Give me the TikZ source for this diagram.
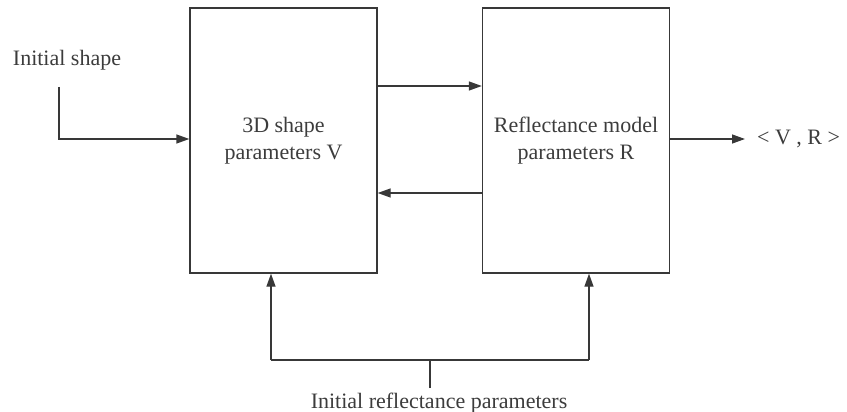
\documentclass[tikz,border=0pt]{standalone}
\usepackage{fontspec}
\setmainfont{Liberation Serif}
\usetikzlibrary{arrows.meta}
\definecolor{linegray}{HTML}{383838}
\definecolor{textgray}{HTML}{3C3C3C}
\begin{document}
\begin{tikzpicture}[x=1pt,y=-1pt,
  block/.style={draw=linegray, line width=1.4pt, minimum width=187pt,
    minimum height=265pt, inner sep=0pt, align=center,
    font=\fontsize{22}{27}\selectfont, text=textgray},
  lbl/.style={font=\fontsize{22}{27}\selectfont, text=textgray, inner sep=0pt},
  wire/.style={draw=linegray, line width=1.4pt},
  flow/.style={wire, -{Triangle[length=13pt,width=9pt]}}
]
\useasboundingbox (0,0) rectangle (847,412);

% the two estimation blocks
\node[block] (shape) at (283.5,140.5) {3D shape\\parameters V};
\node[block] (refl) at (576,140.5) {Reflectance model\\parameters R};

% labels
\node[lbl] (init) at (67,60) {Initial shape};
\node[lbl, anchor=west] (vr) at (757,139) {< V , R >};
\node[lbl] (irp) at (439,403) {Initial reflectance parameters};

% helper points
\coordinate (s0) at (59,87);
\coordinate (s1) at (59,139);
\coordinate (fw) at (0,86);
\coordinate (bw) at (0,193);
\coordinate (ot) at (0,139);
\coordinate (a1) at (271,360);
\coordinate (a2) at (589,360);
\coordinate (jt) at (430,360);
\coordinate (jb) at (430,388);
\coordinate (oe) at (745,139);

% initial shape into the shape block
\draw[flow] (s0) -- (s1) -- (shape.west |- s1);

% exchange between the blocks
\draw[flow] (shape.east |- fw) -- (refl.west |- fw);
\draw[flow] (refl.west |- bw) -- (shape.east |- bw);

% result
\draw[flow] (refl.east |- ot) -- (oe);

% initial reflectance parameters feed both blocks
\draw[wire] (jb) -- (jt);
\draw[wire] (a1) -- (a2);
\draw[flow] (a1) -- (a1 |- shape.south);
\draw[flow] (a2) -- (a2 |- refl.south);
\end{tikzpicture}
\end{document}
